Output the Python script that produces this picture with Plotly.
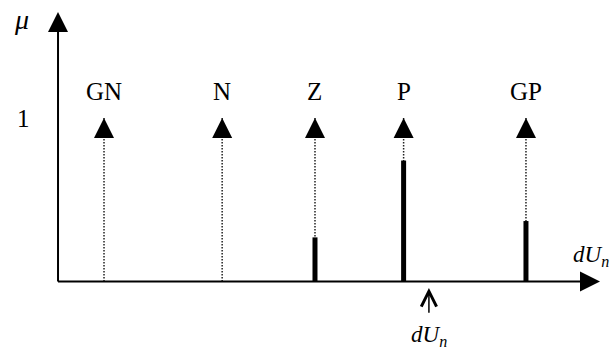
import plotly.graph_objects as go

# ---- data ----
labels = ["GN", "N", "Z", "P", "GP"]
positions = [-1.0, -0.44, 0.0, 0.42, 1.0]
memberships = [0.0, 0.0, 0.27, 0.74, 0.37]
input_value = 0.54
singleton_height = 1.0

# ---- frame (data units) ----
x_origin = -1.218
x_tip = 1.351
y_tip = 1.648
x_range = [-1.493, 1.403]
y_range = [-0.431, 1.722]

FONT = "Liberation Serif, Times New Roman, serif"

fig = go.Figure()

# dotted singleton stems
for p in positions:
    fig.add_trace(go.Scatter(x=[p, p], y=[0, singleton_height], mode="lines",
                             line=dict(color="#222", width=1.5, dash="1.5px,1.5px"),
                             hoverinfo="skip", showlegend=False))

# membership bars
for p, m in zip(positions, memberships):
    if m > 0:
        fig.add_trace(go.Scatter(x=[p, p], y=[0, m], mode="lines",
                                 line=dict(color="black", width=5),
                                 hoverinfo="skip", showlegend=False))

# axis lines
fig.add_trace(go.Scatter(x=[x_origin, x_origin], y=[0, y_tip - 0.06], mode="lines",
                         line=dict(color="black", width=2), hoverinfo="skip", showlegend=False))
fig.add_trace(go.Scatter(x=[x_origin, x_tip - 0.05], y=[0, 0], mode="lines",
                         line=dict(color="black", width=2), hoverinfo="skip", showlegend=False))

# arrow heads
fig.add_trace(go.Scatter(x=positions + [x_origin], y=[singleton_height] * len(positions) + [y_tip],
                         mode="markers",
                         marker=dict(symbol="arrow-up", size=20, color="black", line=dict(width=0)),
                         hoverinfo="skip", showlegend=False))
fig.add_trace(go.Scatter(x=[x_tip], y=[0], mode="markers",
                         marker=dict(symbol="arrow-right", size=20, color="black", line=dict(width=0)),
                         hoverinfo="skip", showlegend=False))

# singleton labels
for p, lab in zip(positions, labels):
    fig.add_annotation(x=p, y=1.165, text=lab, showarrow=False,
                       font=dict(family=FONT, size=25, color="black"))

# axis texts
fig.add_annotation(x=-1.384, y=singleton_height, text="1", showarrow=False,
                   font=dict(family=FONT, size=25, color="black"))
fig.add_annotation(x=-1.389, y=1.60, text="<i>μ</i>", showarrow=False,
                   font=dict(family=FONT, size=28, color="black"))
fig.add_annotation(x=1.308, y=0.156, text="<i>dU</i><sub><i>n</i></sub>", showarrow=False,
                   font=dict(family=FONT, size=23, color="black"))

# input pointer
fig.add_annotation(x=input_value, y=-0.04, ax=input_value, ay=-0.2,
                   axref="x", ayref="y", xref="x", yref="y",
                   text="", showarrow=True, arrowhead=5, arrowsize=2.0, arrowwidth=1.5,
                   arrowcolor="black")
fig.add_annotation(x=input_value, y=-0.333, text="<i>dU</i><sub><i>n</i></sub>", showarrow=False,
                   font=dict(family=FONT, size=23, color="black"))

fig.update_layout(
    width=611, height=352,
    margin=dict(l=0, r=0, t=0, b=0),
    paper_bgcolor="white", plot_bgcolor="white",
    xaxis=dict(visible=False, range=x_range, fixedrange=True),
    yaxis=dict(visible=False, range=y_range, fixedrange=True),
    showlegend=False,
)

fig.write_html("out.html",
               config={"displayModeBar": False, "staticPlot": True},
               post_script="document.body.style.margin='0';document.body.style.overflow='hidden';")
